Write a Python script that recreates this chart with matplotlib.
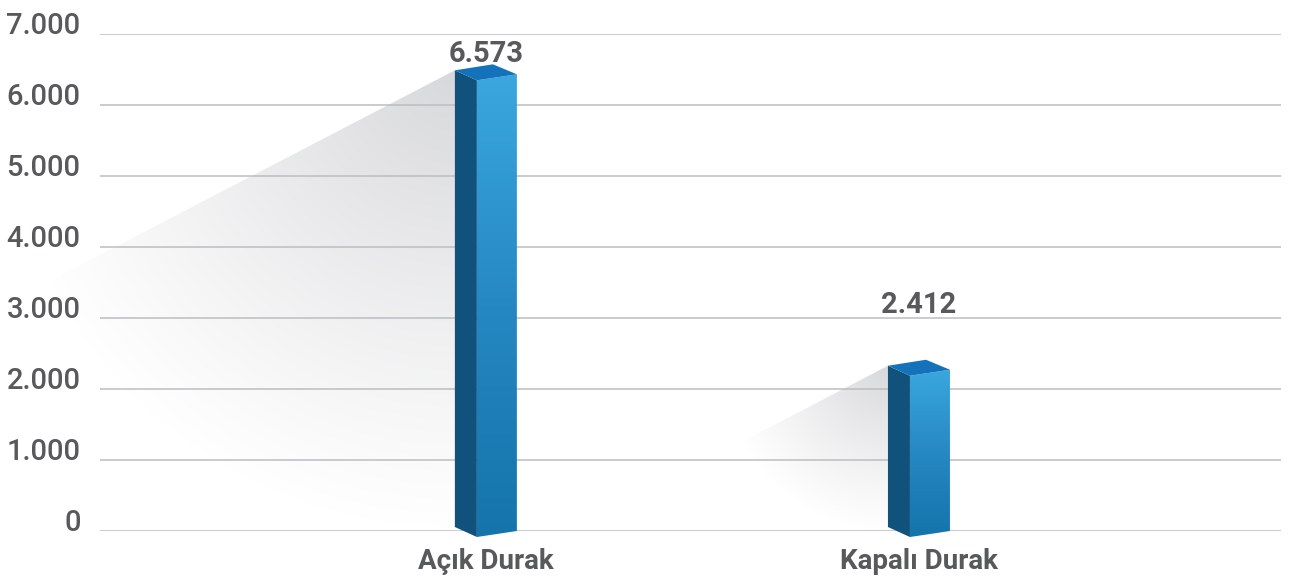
import numpy as np
import matplotlib
matplotlib.use('Agg')
import matplotlib.pyplot as plt
from matplotlib.patches import Polygon
from matplotlib.colors import LinearSegmentedColormap
from matplotlib.ticker import FuncFormatter

# data
categories = ['Açık Durak', 'Kapalı Durak']
values = [6573, 2412]
value_labels = ['6.573', '2.412']
label_lift = [2, 34]  # points above the bar value

text_color = '#58595b'
plt.rcParams['font.family'] = ['Roboto', 'DejaVu Sans']

W, H = 1294, 581
fig = plt.figure(figsize=(W / 100, H / 100), dpi=100)
ax = fig.add_axes([100 / W, 50 / H, 1181 / W, 497 / H])
xmin, xmax = -0.891, 1.836
ymin, ymax = 0, 7000
sx = 1181 / (xmax - xmin)   # px per x unit
sy = 497 / (ymax - ymin)    # px per y unit


def pt(cx, cy, dx, dy):
    # point shifted by dx, dy pixels from (cx, cy) in data units
    return (cx + dx / sx, cy + dy / sy)


face_cmap = LinearSegmentedColormap.from_list('face', ['#1474ab', '#2688c2', '#3aa7de'])

for i, v in enumerate(values):
    lt = pt(i, v, -31, -6)
    bk = pt(i, v, 7, 0)
    rt = pt(i, v, 31, -10)
    ft = pt(i, v, -9, -16)
    lb = pt(i, 0, -31, 4)
    fb = pt(i, 0, -9, -6)
    rb = pt(i, 0, 31, 0)

    # shadow falling to the left
    hpx = v * sy - 6
    dist_left = hpx / 0.52
    far = pt(lt[0], lt[1], -dist_left, -hpx)
    shadow = Polygon([lt, far, (lt[0], 0)], closed=True, transform=ax.transData)
    xs = np.linspace(far[0], lt[0], 400)
    ys = np.linspace(0, lt[1], 300)
    X, Y = np.meshgrid(xs, ys)
    d = np.hypot((X - lt[0]) * sx, (Y - lt[1]) * sy)
    a = 0.9 * np.clip(1 - d / (1.0 * hpx), 0, 1) ** 1.1
    rgba = np.zeros(X.shape + (4,))
    rgba[..., 0] = 0.83
    rgba[..., 1] = 0.835
    rgba[..., 2] = 0.845
    rgba[..., 3] = a
    im = ax.imshow(rgba, extent=[far[0], lt[0], 0, lt[1]], origin='lower',
                   aspect='auto', zorder=0.2, interpolation='bilinear')
    im.set_clip_path(shadow)
    im.set_clip_box(fig.bbox)

    # bar faces
    ax.add_patch(Polygon([lt, ft, fb, lb], closed=True, fc='#11527d', ec='none',
                         zorder=3, clip_on=False))
    right_face = Polygon([ft, rt, rb, fb], closed=True, fc='none', ec='none',
                         transform=ax.transData)
    grad = np.linspace(0, 1, 256).reshape(-1, 1)
    gim = ax.imshow(grad, cmap=face_cmap, extent=[ft[0], rt[0], fb[1], rt[1]],
                    origin='lower', aspect='auto', zorder=3)
    gim.set_clip_path(right_face)
    gim.set_clip_box(fig.bbox)
    ax.add_patch(Polygon([lt, bk, rt, ft], closed=True, fc='#1372b9', ec='none',
                         zorder=3.1, clip_on=False))

    ax.annotate(value_labels[i], xy=(i, v), xytext=(0, label_lift[i]),
                textcoords='offset points', ha='center', va='baseline',
                fontsize=21, fontweight='bold', color=text_color)

ax.set_xlim(xmin, xmax)
ax.set_ylim(ymin, ymax)
ax.set_yticks(range(0, 7001, 1000))
ax.yaxis.set_major_formatter(FuncFormatter(lambda val, p: f'{int(val):,}'.replace(',', '.')))
ax.set_xticks(range(len(categories)))
ax.set_xticklabels(categories, fontsize=20, fontweight='bold', color=text_color)
ax.tick_params(axis='y', length=0, pad=14, labelsize=21, labelcolor=text_color)
ax.tick_params(axis='x', length=0, pad=12)
plt.setp(ax.get_yticklabels(), va='baseline', fontweight='medium')

ax.grid(axis='y', color='#bcbdc0', linewidth=1.1)
ax.set_axisbelow(True)
for s in ax.spines.values():
    s.set_visible(False)

fig.savefig('out.png', dpi=100)
plt.close(fig)
